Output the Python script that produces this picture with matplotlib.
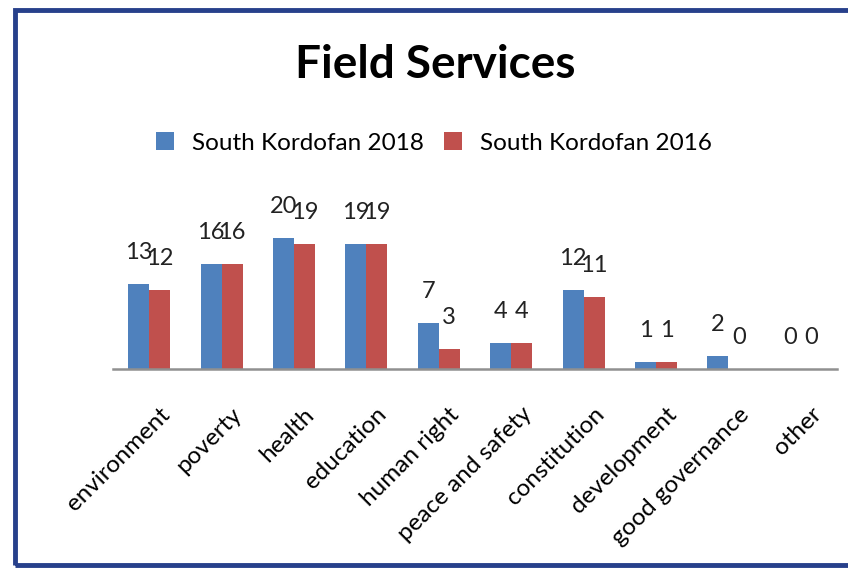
import matplotlib.pyplot as plt
import matplotlib.patches as patches
from matplotlib.transforms import ScaledTranslation
import numpy as np

plt.rcParams['font.family'] = ['Lato', 'DejaVu Sans']

categories = ['environment', 'poverty', 'health', 'education', 'human right',
              'peace and safety', 'constitution', 'development',
              'good governance', 'other']
sk_2018 = [13, 16, 20, 19, 7, 4, 12, 1, 2, 0]
sk_2016 = [12, 16, 19, 19, 3, 4, 11, 1, 0, 0]
series_names = ['South Kordofan 2018', 'South Kordofan 2016']

blue = '#4F81BD'
red = '#C0504D'

W, H = 848, 569
fig = plt.figure(figsize=(W / 100, H / 100), dpi=100)

# frame around the chart (right edge runs off the picture)
fig.patches.append(patches.Rectangle((15 / W, 1 - 565 / H), 900 / W, 555 / H,
                                     transform=fig.transFigure, fill=False,
                                     edgecolor='#27408B', linewidth=3.5))

ax = fig.add_axes([113 / W, 1 - 369 / H, 724 / W, (369 - 205) / H])
x = np.arange(len(categories))
bw = 0.29
b1 = ax.bar(x - bw / 2, sk_2018, bw, color=blue, label=series_names[0])
b2 = ax.bar(x + bw / 2, sk_2016, bw, color=red, label=series_names[1])

for bars in (b1, b2):
    for rect in bars:
        ax.annotate(str(int(rect.get_height())),
                    (rect.get_x() + rect.get_width() / 2, rect.get_height()),
                    xytext=(0, 18), textcoords='offset points',
                    ha='center', va='baseline', fontsize=17, color='#222222')

ax.set_xlim(-0.5, len(categories) - 0.5)
ax.set_ylim(0, 25)
for s in ['top', 'right', 'left']:
    ax.spines[s].set_visible(False)
ax.spines['bottom'].set_color('#909090')
ax.spines['bottom'].set_linewidth(1.8)
ax.set_yticks([])
ax.set_xticks(x)
ax.set_xticklabels(categories, rotation=45, ha='right', va='center',
                   rotation_mode='anchor', fontsize=17.5)
ax.tick_params(axis='x', length=0, pad=0)
shift = ScaledTranslation(0.17, -0.42, fig.dpi_scale_trans)
for lab in ax.get_xticklabels():
    lab.set_transform(lab.get_transform() + shift)

fig.text(435 / W, 1 - 65 / H, 'Field Services', ha='center', va='center',
         fontsize=33, fontweight='bold')

fig.legend(handles=[b1, b2], loc='center', bbox_to_anchor=(434 / W, 1 - 143 / H),
           ncol=2, frameon=False, fontsize=17.5, handlelength=0.75,
           handleheight=0.75, handletextpad=0.75, columnspacing=0.8)

fig.savefig('out.png', dpi=100)
